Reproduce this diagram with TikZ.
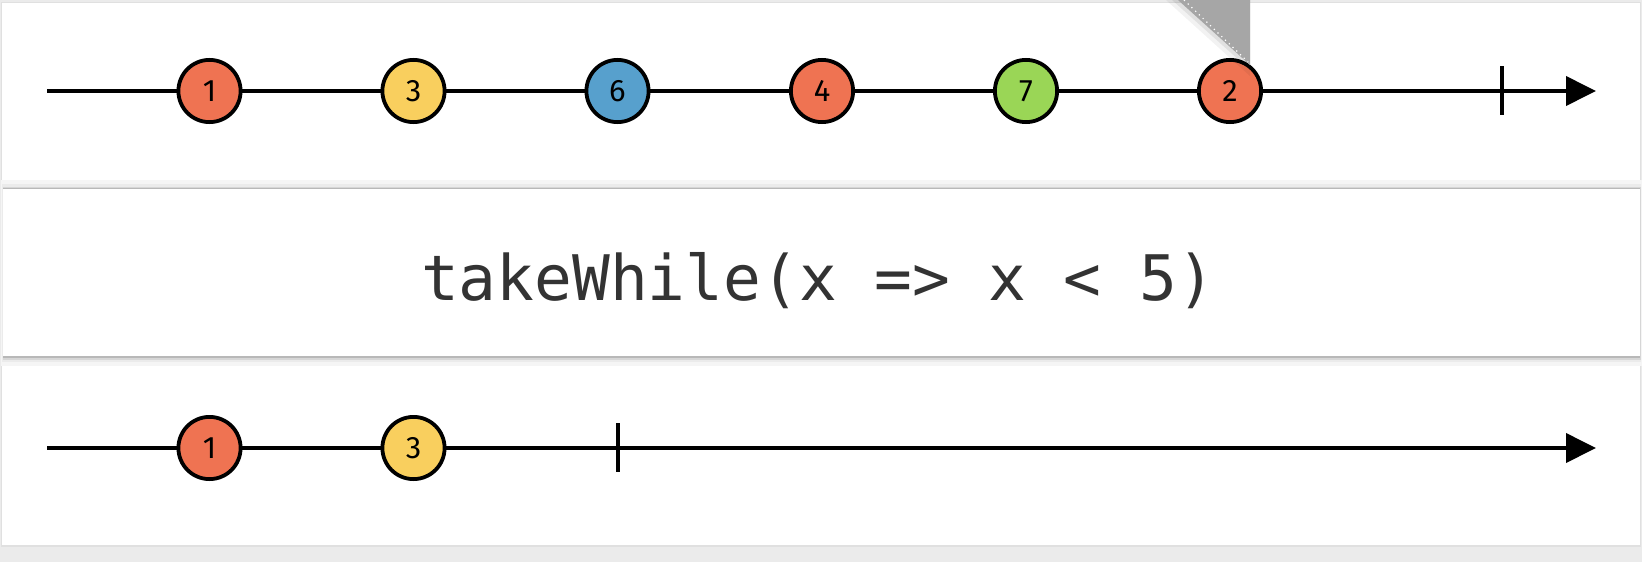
\documentclass[tikz,border=0pt]{standalone}
\usepackage{fontspec}
\setsansfont{Fira Sans}
\setmonofont{DejaVu Sans Mono}
\usetikzlibrary{arrows.meta}
\definecolor{pageGrey}{HTML}{EBEBEB}
\definecolor{foldGrey}{HTML}{A6A6A6}
\definecolor{codeGrey}{HTML}{333333}
\definecolor{marbleRed}{HTML}{EF7352}
\definecolor{marbleYellow}{HTML}{F9CF5E}
\definecolor{marbleBlue}{HTML}{57A0CD}
\definecolor{marbleGreen}{HTML}{9AD656}

\begin{document}
\begin{tikzpicture}[x=0.5pt,y=-0.5pt,
  marble/.style={circle,draw=black,line width=1.9pt,minimum size=31.1pt,inner sep=0pt,
    font=\sffamily\fontsize{15.5}{17}\selectfont},
  timeline/.style={line width=1.9pt,-{Triangle[length=15pt,width=14.5pt]}},
  endtick/.style={line width=1.9pt}]
\useasboundingbox (0,0) rectangle (1642,562);
% page and card
\fill[pageGrey] (0,0) rectangle (1642,562);
\fill[black!12] (1,2) rectangle (1641,547);
\fill[white] (2,3) rectangle (1640,545);
% top stream
\coordinate (topStart) at (47,91);
\coordinate (topArrow) at (1596,91);
\coordinate (topTickA) at (1502,66);
\coordinate (topTickB) at (1502,115);
\draw[timeline] (topStart) -- (topArrow);
\draw[endtick] (topTickA) -- (topTickB);
\node[marble,fill=marbleRed] (inOne) at (209.5,91) {1};
\node[marble,fill=marbleYellow] (inThree) at (413.5,91) {3};
\node[marble,fill=marbleBlue] (inSix) at (617.5,91) {6};
\node[marble,fill=marbleRed] (inFour) at (822,91) {4};
\node[marble,fill=marbleGreen] (inSeven) at (1026,91) {7};
\node[marble,fill=marbleRed] (inTwo) at (1230,91) {2};
% folded corner
\fill[black,opacity=0.05] (1166,0) -- (1250,0) -- (1250,76) -- cycle;
\fill[black,opacity=0.07] (1172,0) -- (1250,0) -- (1250,70) -- cycle;
\fill[foldGrey] (1178,0) -- (1250,0) -- (1250,65) -- cycle;
\draw[white,line width=0.6pt,dotted] (1184,0) -- (1248,62);
% operator box
\fill[black!4] (1,180) rectangle (1642,366);
\fill[black!8] (2,184) rectangle (1641,362);
\fill[black!16] (3,187) rectangle (1641,360);
\fill[black!28] (3,188) rectangle (1640,358);
\fill[white] (3,189) rectangle (1640,356);
\node[anchor=base,font=\ttfamily\fontsize{31.4}{36}\selectfont,text=codeGrey,inner sep=0pt]
  (operator) at (818,300) {takeWhile(x => x < 5)};
% bottom stream
\coordinate (outStart) at (47,448);
\coordinate (outArrow) at (1596,448);
\coordinate (outTickA) at (618,423);
\coordinate (outTickB) at (618,472);
\draw[timeline] (outStart) -- (outArrow);
\draw[endtick] (outTickA) -- (outTickB);
\node[marble,fill=marbleRed] (outOne) at (209.5,448) {1};
\node[marble,fill=marbleYellow] (outThree) at (413.5,448) {3};
\end{tikzpicture}
\end{document}
